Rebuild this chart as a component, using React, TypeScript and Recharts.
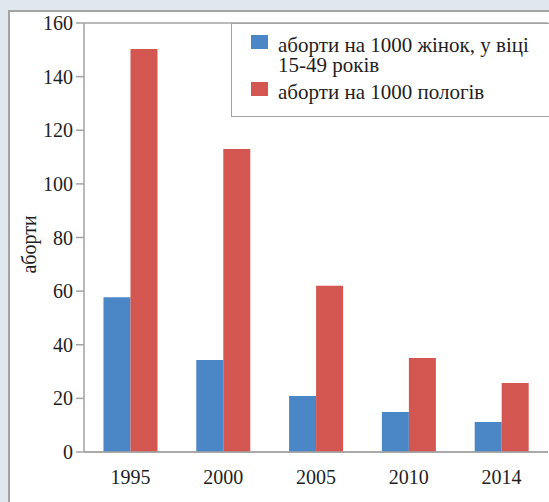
import { BarChart, Bar, XAxis, YAxis, CartesianGrid, Label } from 'recharts';

const years = ['1995', '2000', '2005', '2010', '2014'];
const perWomen = [57.7, 34.3, 20.9, 14.9, 11.2];
const perBirths = [150.3, 113, 62, 35.1, 25.7];
const yTicks = [0, 20, 40, 60, 80, 100, 120, 140, 160];
const edgeTicks = [0, 1, 2, 3, 4, 5];

const seriesWomen = 'аборти на 1000 жінок, у віці 15-49 років';
const seriesBirths = 'аборти на 1000 пологів';
const axisTitle = 'аборти';

const data = years.map((year, i) => ({
  year,
  women: perWomen[i],
  births: perBirths[i],
}));

const FONT = '"Liberation Serif", "Times New Roman", serif';
const GRID = '#a3a3a3';
const TEXT = '#1e1e1e';
const BLUE = '#4b87c6';
const RED = '#d35650';

const legendItems = [
  { name: seriesWomen, color: BLUE },
  { name: seriesBirths, color: RED },
];

function ChartLegend() {
  return (
    <div
      style={{
        position: 'absolute',
        left: 231,
        top: 23,
        width: 330,
        height: 94,
        boxSizing: 'border-box',
        border: `1.5px solid ${GRID}`,
        background: '#fff',
        padding: '11px 0 0 19px',
        fontFamily: FONT,
        fontSize: 21,
        lineHeight: '20px',
        color: TEXT,
      }}
    >
      {legendItems.map((p) => (
        <div key={p.name} style={{ display: 'flex', alignItems: 'flex-start', marginBottom: 7 }}>
          <span
            style={{
              display: 'inline-block',
              width: 17,
              height: 14,
              background: p.color,
              marginTop: 0,
              marginRight: 10,
              flex: 'none',
            }}
          />
          <span style={{ width: 262 }}>{p.name}</span>
        </div>
      ))}
    </div>
  );
}

export default function App() {
  return (
    <div
      style={{
        position: 'absolute',
        left: 0,
        top: 0,
        width: 549,
        height: 502,
        overflow: 'hidden',
        background: '#dfe7ef',
      }}
    >
      <div
        style={{
          position: 'absolute',
          left: 8,
          top: 10,
          width: 600,
          height: 560,
          background: '#fff',
          border: `2px solid ${GRID}`,
        }}
      />
      <div style={{ position: 'absolute', left: 0, top: 0 }}>
        <BarChart
          width={549}
          height={502}
          data={data}
          margin={{ top: 23, right: 1, left: 0, bottom: 0 }}
          barCategoryGap="21%"
          barGap={0}
        >
          <CartesianGrid vertical={false} stroke={GRID} strokeWidth={1.5} />
          <XAxis
            xAxisId="edge"
            type="number"
            domain={[0, 5]}
            ticks={edgeTicks}
            height={0}
            axisLine={false}
            tickLine={{ stroke: GRID, strokeWidth: 1.5 }}
            tickSize={8}
            tickFormatter={() => ''}
          />
          <XAxis
            xAxisId="cat"
            dataKey="year"
            height={50}
            axisLine={{ stroke: GRID, strokeWidth: 1.5 }}
            tickLine={false}
            tickSize={8}
            tickMargin={10}
            tick={{ fill: TEXT, fontSize: 20, fontFamily: FONT }}
          />
          <YAxis
            yAxisId="left"
            width={84}
            domain={[0, 160]}
            ticks={yTicks}
            interval={0}
            axisLine={{ stroke: GRID, strokeWidth: 1.5 }}
            tickLine={{ stroke: GRID, strokeWidth: 1.5 }}
            tickSize={8}
            tickMargin={3}
            tick={{ fill: TEXT, fontSize: 20, fontFamily: FONT }}
          >
            <Label
              value={axisTitle}
              angle={-90}
              position="center"
              dx={-13}
              dy={7}
              style={{ fill: TEXT, fontSize: 20, fontFamily: FONT }}
            />
          </YAxis>
          <YAxis
            yAxisId="right"
            orientation="right"
            width={0}
            domain={[0, 160]}
            tick={false}
            tickLine={false}
            axisLine={{ stroke: GRID, strokeWidth: 1.5 }}
          />
          <Bar
            xAxisId="cat"
            yAxisId="left"
            dataKey="women"
            name={seriesWomen}
            fill={BLUE}
            isAnimationActive={false}
          />
          <Bar
            xAxisId="cat"
            yAxisId="left"
            dataKey="births"
            name={seriesBirths}
            fill={RED}
            isAnimationActive={false}
          />
        </BarChart>
      </div>
      <ChartLegend />
    </div>
  );
}
